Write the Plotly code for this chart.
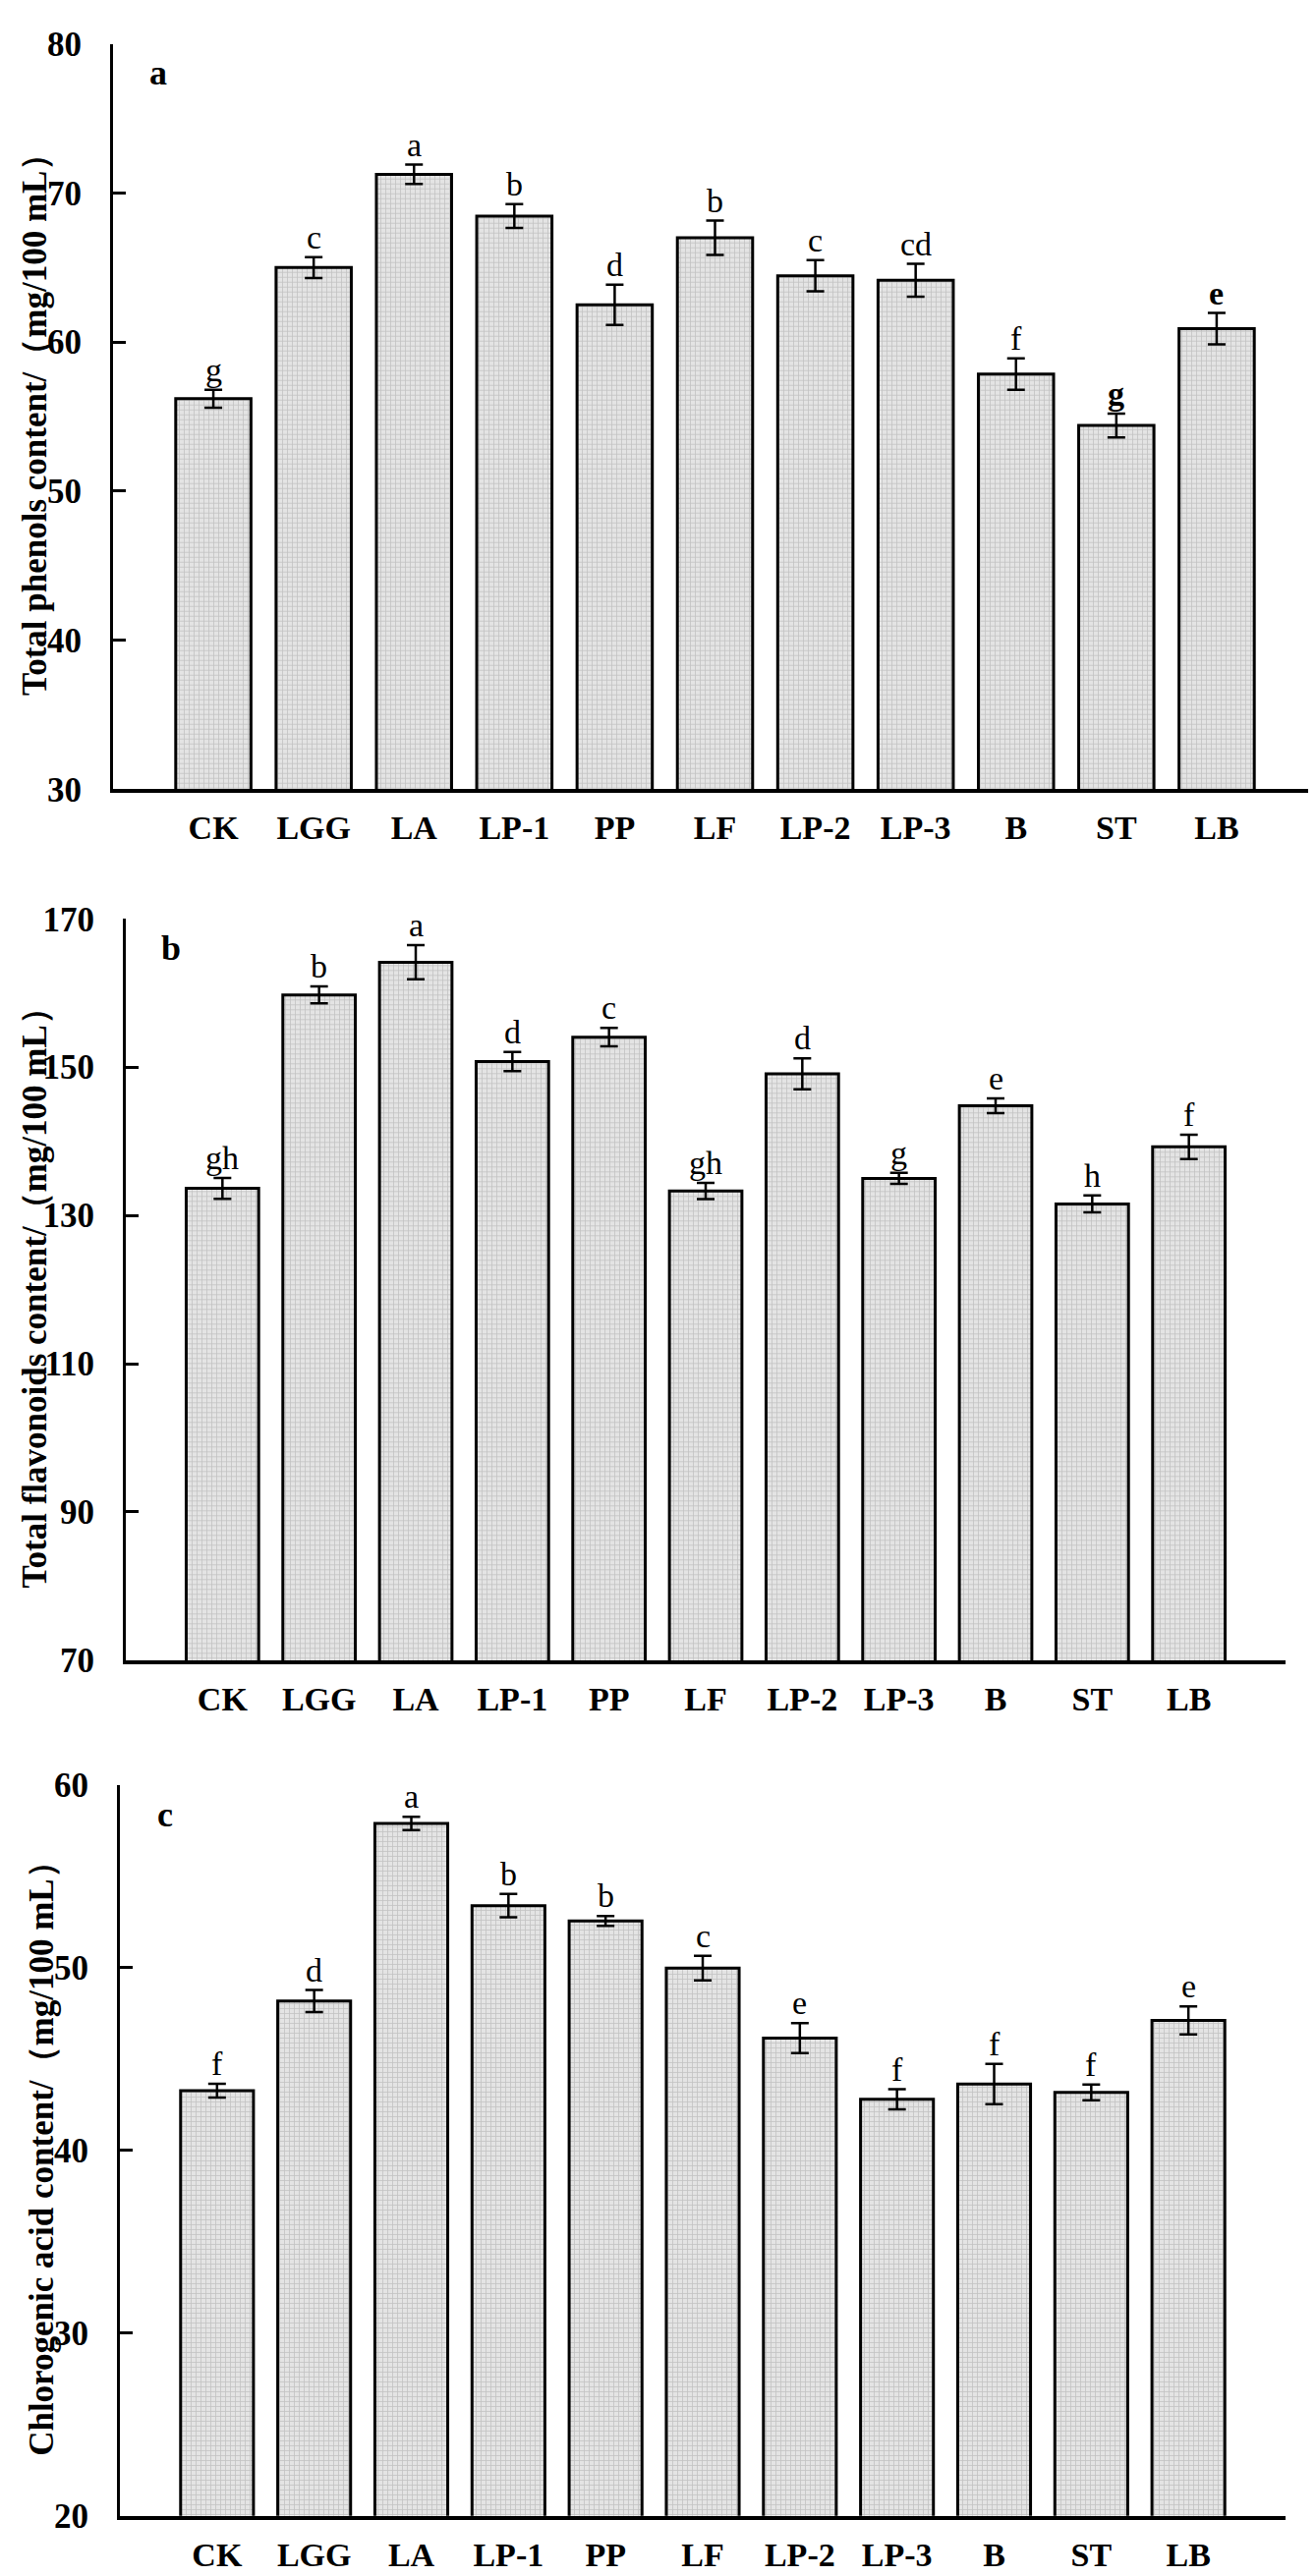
import plotly.graph_objects as go

# data
groups = ['CK', 'LGG', 'LA', 'LP-1', 'PP', 'LF', 'LP-2', 'LP-3', 'B', 'ST', 'LB']

phenols = [56.2, 65.0, 71.25, 68.45, 62.5, 67.0, 64.45, 64.15, 57.85, 54.4, 60.9]
phenols_err = [0.6, 0.7, 0.65, 0.8, 1.35, 1.15, 1.05, 1.1, 1.05, 0.8, 1.05]
phenols_sig = ['g', 'c', 'a', 'b', 'd', 'b', 'c', 'cd', 'f', '<b>g</b>', '<b>e</b>']

flavonoids = [133.65, 159.75, 164.15, 150.75, 154.05, 133.3, 149.1, 135.0, 144.8, 131.55, 139.25]
flavonoids_err = [1.4, 1.15, 2.3, 1.3, 1.25, 1.1, 2.1, 0.75, 1.0, 1.15, 1.65]
flavonoids_sig = ['gh', 'b', 'a', 'd', 'c', 'gh', 'd', 'g', 'e', 'h', 'f']

chlorogenic = [43.27, 48.18, 57.9, 53.4, 52.56, 49.98, 46.15, 42.8, 43.64, 43.18, 47.12]
chlorogenic_err = [0.38, 0.6, 0.36, 0.64, 0.27, 0.67, 0.82, 0.55, 1.1, 0.43, 0.77]
chlorogenic_sig = ['f', 'd', 'a', 'b', 'b', 'c', 'e', 'f', 'f', 'f', 'e']

W, H = 1339, 2622
FONT = 'Liberation Serif, Times New Roman, serif'

# panel boxes in pixels: (left, right, top, bottom)
panels = [
    dict(key='a', vals=phenols, err=phenols_err, sig=phenols_sig,
         yrange=[30, 80], dtick=10, box=(107, 1332, 18, 788), title_x=27,
         title='Total phenols content/（mg/100 mL）'),
    dict(key='b', vals=flavonoids, err=flavonoids_err, sig=flavonoids_sig,
         yrange=[70, 170], dtick=20, box=(120, 1300, 922, 1688), title_x=28,
         title='Total flavonoids content/（mg/100 mL）'),
    dict(key='c', vals=chlorogenic, err=chlorogenic_err, sig=chlorogenic_sig,
         yrange=[20, 60], dtick=10, box=(114, 1300, 1817, 2572), title_x=35,
         title='Chlorogenic acid content/（mg/100 mL）'),
]

fig = go.Figure()
annotations = []
layout = {}

for i, p in enumerate(panels, start=1):
    sfx = '' if i == 1 else str(i)
    left, right, top, bottom = p['box']
    xdom = [left / W, right / W]
    ydom = [1 - bottom / H, 1 - top / H]

    fig.add_trace(go.Bar(
        x=groups, y=p['vals'],
        xaxis='x' + sfx, yaxis='y' + sfx,
        width=0.75,
        marker=dict(color='#d4d4d4',
                    line=dict(color='black', width=3),
                    pattern=dict(shape='+', size=5, solidity=0.3,
                                 fgcolor='#a0a0a0', bgcolor='#e4e4e4')),
        error_y=dict(type='data', array=p['err'], color='black',
                     thickness=2.5, width=9),
        showlegend=False,
    ))

    layout['xaxis' + sfx] = dict(
        domain=xdom, anchor='y' + sfx, type='category',
        range=[-1, 11], showline=True, linecolor='black', linewidth=4,
        ticks='', showgrid=False, zeroline=False,
        tickfont=dict(family=FONT, size=34, color='black', weight='bold'),
        ticklabelstandoff=6,
    )
    layout['yaxis' + sfx] = dict(
        domain=ydom, anchor='x' + sfx, range=p['yrange'],
        tick0=p['yrange'][0], dtick=p['dtick'],
        showline=True, linecolor='black', linewidth=3,
        ticks='inside', ticklen=13, tickwidth=3, tickcolor='black',
        showgrid=False, zeroline=False,
        tickfont=dict(family=FONT, size=35, color='black', weight='bold'),
        ticklabelstandoff=22,
    )

    # significance letters above error bars
    for g, v, e, s in zip(groups, p['vals'], p['err'], p['sig']):
        annotations.append(dict(
            x=g, y=v + e, xref='x' + sfx, yref='y' + sfx,
            text=s, showarrow=False, yanchor='bottom', xanchor='center',
            font=dict(family=FONT, size=34, color='black'),
        ))

    # panel letter
    annotations.append(dict(
        x=(left + 46) / W, y=1 - (top + 30) / H, xref='paper', yref='paper',
        text='<b>%s</b>' % p['key'], showarrow=False,
        xanchor='center', yanchor='middle',
        font=dict(family=FONT, size=36, color='black'),
    ))

    # y-axis title
    annotations.append(dict(
        x=p['title_x'] / W, y=(ydom[0] + ydom[1]) / 2,
        xref='paper', yref='paper', text='<b>%s</b>' % p['title'],
        textangle=-90, showarrow=False, xanchor='center', yanchor='middle',
        font=dict(family=FONT, size=35, color='black'),
    ))

fig.update_layout(
    width=W, height=H,
    margin=dict(l=0, r=0, t=0, b=0),
    paper_bgcolor='white', plot_bgcolor='white',
    bargap=0.25,
    annotations=annotations,
    **layout,
)

fig.write_html('out.html')
